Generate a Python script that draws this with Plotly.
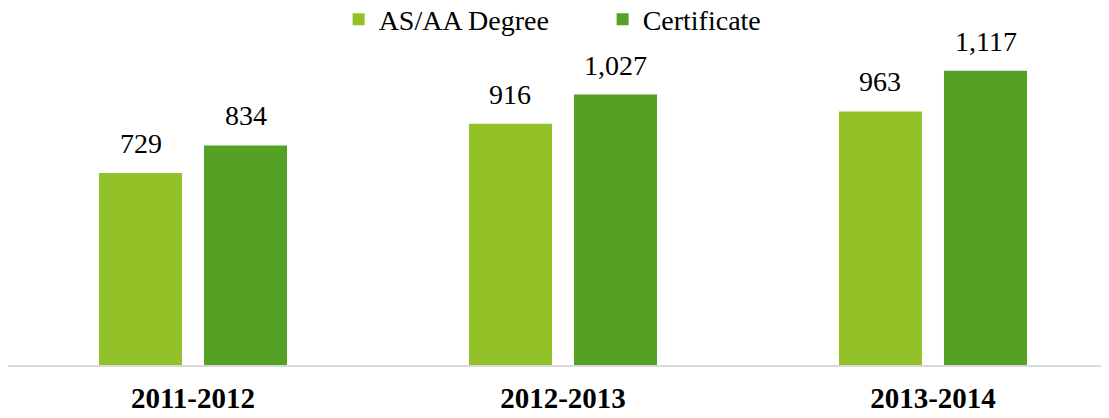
import plotly.graph_objects as go

categories = ["2011-2012", "2012-2013", "2013-2014"]
series_names = ["AS/AA Degree", "Certificate"]
as_aa_degree = [729, 916, 963]
certificate = [834, 1027, 1117]
colors = ["#92C227", "#55A125"]

FONT = "Liberation Serif, Times New Roman, serif"
BARGAP = 0.4324
BARGROUPGAP = 0.2095

fig = go.Figure()
for name, vals, col in zip(series_names, [as_aa_degree, certificate], colors):
    fig.add_trace(go.Bar(name=name, x=categories, y=vals, marker_color=col,
                         marker_line_width=0))

# value labels above bars
slot = (1 - BARGAP) / 2
for i, vals in enumerate([as_aa_degree, certificate]):
    off = (i - 0.5) * slot
    for j, v in enumerate(vals):
        fig.add_annotation(x=j + off, y=v, text=f"{v:,}", showarrow=False,
                           xref="x", yref="y", yanchor="bottom", yshift=12,
                           font=dict(family=FONT, size=28, color="black"))

fig.update_layout(
    width=1101, height=410,
    margin=dict(l=0, r=0, t=41, b=53, autoexpand=False),
    barmode="group", bargap=BARGAP, bargroupgap=BARGROUPGAP,
    plot_bgcolor="white", paper_bgcolor="white",
    showlegend=True,
    legend=dict(orientation="h", xref="paper", x=0.3003, xanchor="left",
                yref="paper", y=1.172, yanchor="top",
                font=dict(family=FONT, size=28, color="black"),
                entrywidth=219, entrywidthmode="pixels",
                bgcolor="rgba(0,0,0,0)"),
    font=dict(family=FONT, color="black"),
)
fig.update_xaxes(type="category", range=[-0.5, 2.4757], showline=True,
                 linecolor="#D9D9D9", linewidth=2, ticks="", showgrid=False,
                 tickfont=dict(family=FONT, size=29, color="black", weight="bold"),
                 ticklabelstandoff=6)
fig.update_yaxes(range=[0, 1200], visible=False, showgrid=False)

fig.write_html("out.html")
